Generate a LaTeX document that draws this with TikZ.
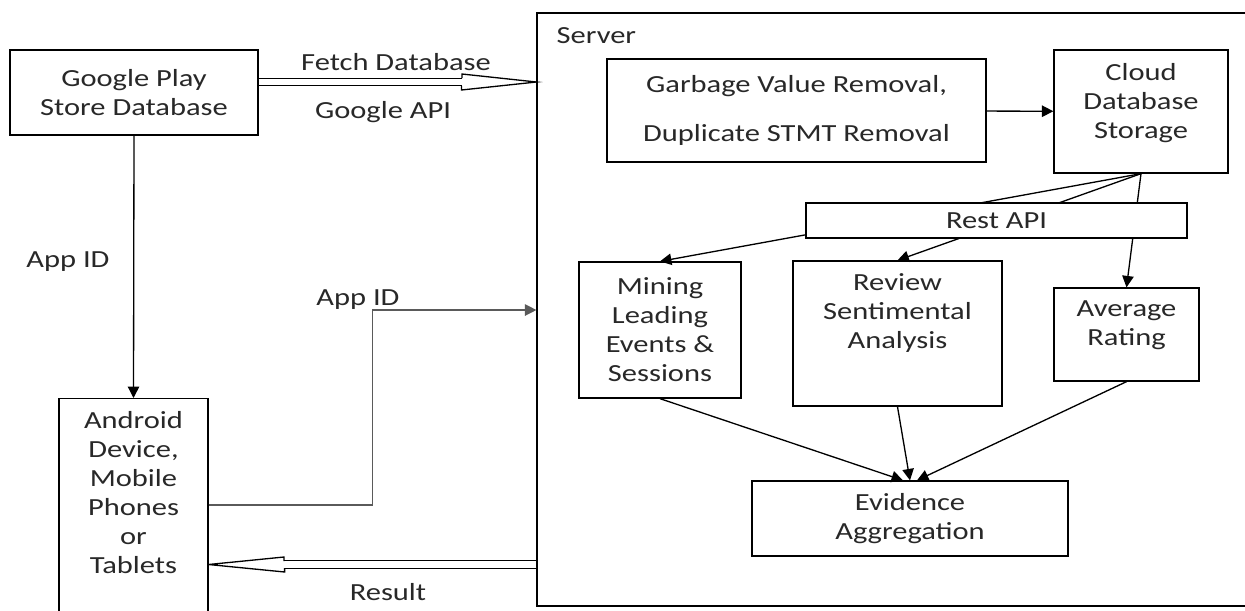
\documentclass[tikz,border=0pt]{standalone}
\usepackage{fontspec}
\setmainfont{Carlito}[FakeStretch=1.24]
\usepackage{tikz}
\usetikzlibrary{arrows.meta,calc}
\definecolor{InkGray}{RGB}{40,40,40}
\definecolor{WireGray}{RGB}{90,90,90}

\begin{document}
\begin{tikzpicture}[x=0.02cm,y=-0.02cm,>={Triangle[length=6.5pt,width=6.5pt]},
    line width=0.75pt,
    box/.style={draw,fill=white,align=center,inner sep=0pt,
      font=\fontsize{14}{16.5}\selectfont,text=InkGray},
    lbl/.style={align=center,inner sep=0pt,
      font=\fontsize{14}{16.5}\selectfont,text=InkGray},
    dbl/.style={double,double distance=3.6pt,line width=0.7pt}]
  \useasboundingbox (0,0) rectangle (1245,610);
  % server frame (cut off on the right)
  \node[draw,inner sep=0pt,minimum width=14.56cm,minimum height=11.86cm]
    (srv) at (901,309.5) {};
  \node[lbl,anchor=west] (srvlbl) at (556,36) {Server};
  % outside
  \node[box,minimum width=4.96cm,minimum height=1.70cm] (gp) at (134,92.5)
    {Google Play\\Store Database};
  \node[box,anchor=north,minimum width=2.98cm,minimum height=4.8cm] (ad)
    at (133.5,398) {Android\\Device,\\Mobile\\Phones\\or\\Tablets\\[13pt]\mbox{}};
  % inside the server
  \node[box,minimum width=7.58cm,minimum height=2.06cm] (garb) at (796.5,110.5)
    {Garbage Value Removal,\\[11pt]Duplicate STMT Removal};
  \node[box,minimum width=3.48cm,minimum height=2.46cm] (cloud) at (1141,111.5)
    {Cloud\\Database\\Storage\\[-4pt]\mbox{}};
  \node[box,minimum width=3.24cm,minimum height=2.72cm] (mine) at (660,330)
    {Mining\\Leading\\Events \&\\Sessions};
  \node[box,minimum width=4.18cm,minimum height=2.90cm] (rev) at (897.5,333.5)
    {Review\\Sentimental\\Analysis\\[9pt]\mbox{}};
  \node[box,minimum width=2.90cm,minimum height=1.86cm] (avg) at (1126.5,334.5)
    {Average\\Rating\\[-3pt]\mbox{}};
  \node[box,minimum width=6.32cm,minimum height=1.50cm] (evid) at (910,518.5)
    {Evidence\\Aggregation};

  \draw[->] (garb) -- (cloud);
  \draw[->] (cloud.south) -- (mine.north);
  \draw[->] (cloud.south) -- (rev.north);
  \draw[->] (cloud.south) -- (avg.north);
  % rest api sits over the three wires
  \node[box,minimum width=7.62cm,minimum height=0.70cm] (rest) at (996.5,220.5)
    {Rest API};

  \draw[->] (mine.south) -- ([xshift=-4pt]evid.north);
  \draw[->] (rev.south) -- (evid.north);
  \draw[->] (avg.south) -- ([xshift=4pt]evid.north);

  % fetch database, hollow double arrow
  \coordinate (fb) at (462,82);
  \draw[dbl] (gp.east|-fb) -- (fb);
  \draw (fb) ++(0,-4) -- ++(0,-4) -- (srv.west|-fb) -- ++(-75,8) -- ++(0,-4);
  \node[lbl] (fetch) at (396,62) {Fetch Database};
  \node[lbl] (gapi) at (383,112) {Google API};

  % result back to the device
  \coordinate (rb) at (284,564.5);
  \draw[dbl] (srv.west|-rb) -- (rb);
  \draw (rb) ++(0,-3.5) -- ++(0,-4) -- (ad.east|-rb) -- ++(76,7.5) -- ++(0,-4);
  \node[lbl] (res) at (388,592) {Result};

  % app id wires
  \draw[->] (gp.south) -- (ad.north);
  \node[lbl] (appa) at (68,262) {App ID};
  \draw[->,WireGray] (ad.east|-0,505) -- ++(164,0) |- (srv.west|-0,310);
  \node[lbl] (appb) at (358,300) {App ID};
\end{tikzpicture}
\end{document}
